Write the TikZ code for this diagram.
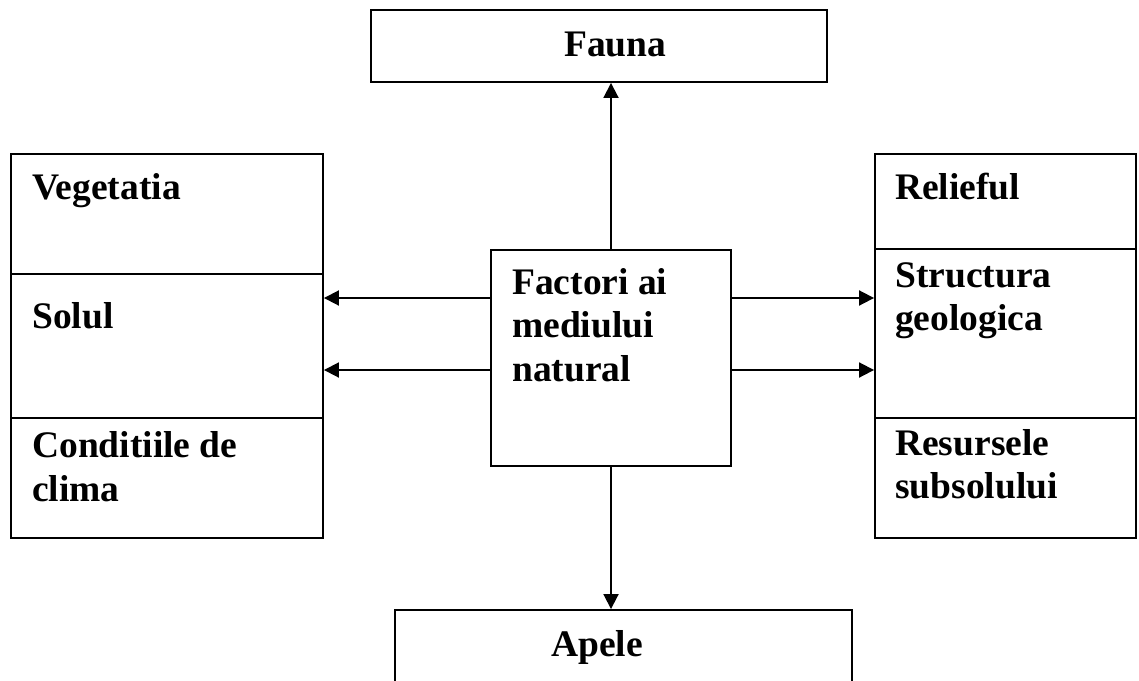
\documentclass[tikz,border=0pt]{standalone}
\usepackage{fontspec}
\setmainfont{Liberation Serif}
\usetikzlibrary{arrows.meta}
\begin{document}
\begin{tikzpicture}[x=1pt,y=-1pt,
  panel/.style={draw, line width=1.9pt, inner sep=0pt},
  % multi-line labels are placed by the baseline of their last line
  txt/.style={anchor=base west, inner sep=0pt, align=left,
    font=\fontsize{37.5}{43.5}\selectfont\bfseries},
  arr/.style={line width=1.9pt, -{Triangle[length=15pt,width=15pt]}}]
\useasboundingbox (0,0) rectangle (1139,680);
\clip (0,0) rectangle (1139,680);

% top and bottom boxes
\node[panel, minimum width=456pt, minimum height=72pt] (fauna) at (599,46) {};
\node[panel, minimum width=457pt, minimum height=110pt] (apele) at (623.5,665) {};

% central box
\node[panel, minimum width=240pt, minimum height=216pt] (ctr) at (611,358) {};

% left column
\node[panel, minimum width=312pt, minimum height=120pt] (veg) at (167,214) {};
\node[panel, minimum width=312pt, minimum height=144pt] (sol) at (167,346) {};
\node[panel, minimum width=312pt, minimum height=120pt] (clima) at (167,478) {};

% right column
\node[panel, minimum width=261pt, minimum height=95pt] (rel) at (1005.5,201.5) {};
\node[panel, minimum width=261pt, minimum height=169pt] (str) at (1005.5,333.5) {};
\node[panel, minimum width=261pt, minimum height=120pt] (res) at (1005.5,478) {};

% labels
\node[txt] (tfauna) at (564,56) {Fauna};
\node[txt] (tapele) at (551,656) {Apele};
\node[txt] (tctr) at (512,381) {Factori ai\\mediului\\natural};
\node[txt] (tveg) at (32,199) {Vegetatia};
\node[txt] (tsol) at (32,328) {Solul};
\node[txt] (tclima) at (32,501) {Conditiile de\\clima};
\node[txt] (trel) at (895,199) {Relieful};
\node[txt] (tstr) at (895,330.5) {Structura\\geologica};
\node[txt] (tres) at (895,498.5) {Resursele\\subsolului};

% connectors
\coordinate (h1) at (0,298);
\coordinate (h2) at (0,370);
\draw[arr] (ctr.north) -- (ctr.north |- fauna.south);
\draw[arr] (ctr.south) -- (ctr.south |- apele.north);
\draw[arr] (ctr.west |- h1) -- (sol.east |- h1);
\draw[arr] (ctr.west |- h2) -- (sol.east |- h2);
\draw[arr] (ctr.east |- h1) -- (str.west |- h1);
\draw[arr] (ctr.east |- h2) -- (str.west |- h2);
\end{tikzpicture}
\end{document}
